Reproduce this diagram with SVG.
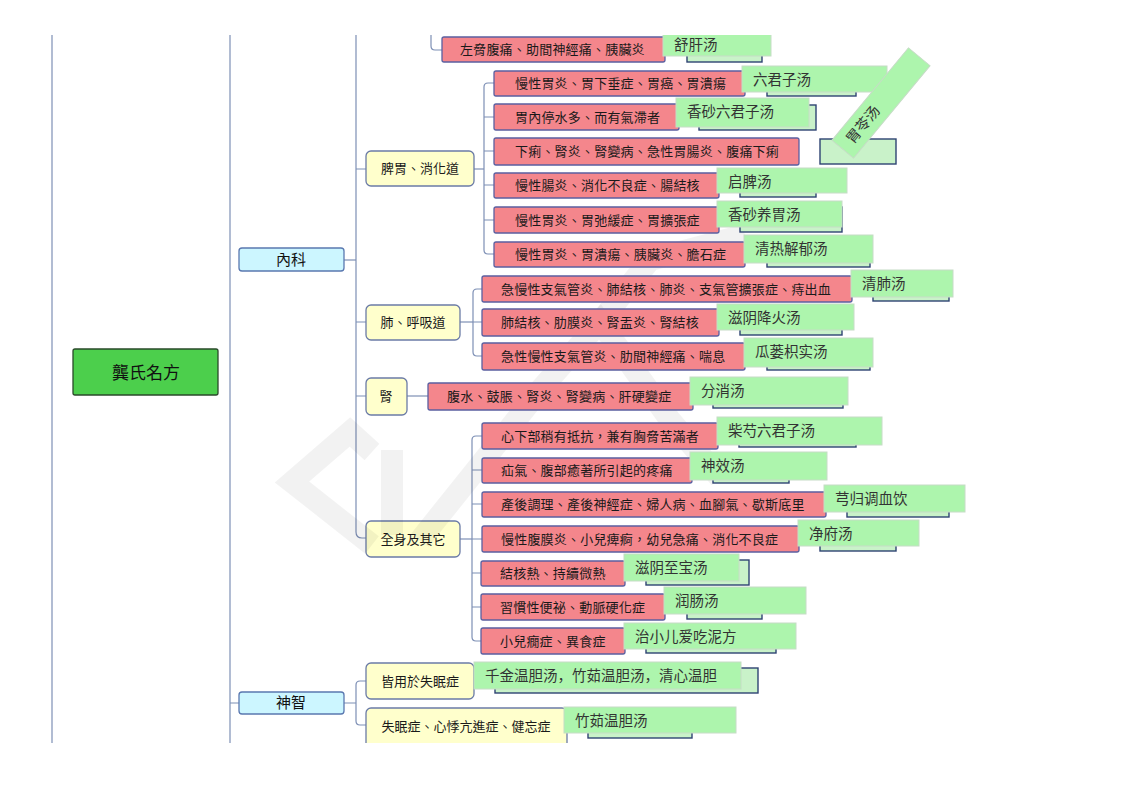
<svg xmlns="http://www.w3.org/2000/svg" width="1122" height="793" viewBox="0 0 1122 793">
<defs>
<clipPath id="page"><rect x="0" y="35" width="1122" height="708"/></clipPath>
<style>
.red{fill:#f4868c;stroke:#5b5fa0;stroke-width:1.3}
.grn{fill:#adf5ad;stroke:#c6dcc6;stroke-width:1}
.shd{fill:#c9f2c9;stroke:#2e4372;stroke-width:1.4}
.yel{fill:#ffffcc;stroke:#6b7ba6;stroke-width:1.3}
.cyan{fill:#ccf6ff;stroke:#5a78b0;stroke-width:1.3}
.root{fill:#4ccf4c;stroke:#2a4a2a;stroke-width:1.3}
.ln{fill:none;stroke:#7d8fb5;stroke-width:1.2}
.rt{font-family:"Noto Sans CJK TC","Noto Sans CJK SC",sans-serif;font-size:13px;fill:#1a1a1a;letter-spacing:0.2px}
.gt{font-family:"Noto Sans CJK SC",sans-serif;font-size:14.5px;fill:#333}
.yt{font-family:"Noto Sans CJK TC","Noto Sans CJK SC",sans-serif;font-size:13px;fill:#1a1a1a;text-anchor:middle}
.ct{font-family:"Noto Sans CJK TC","Noto Sans CJK SC",sans-serif;font-size:15px;fill:#111;text-anchor:middle}
.wm{fill:none;stroke:#000;stroke-opacity:0.05;stroke-width:22;stroke-linejoin:miter}
</style>
</defs>
<rect width="1122" height="793" fill="#fff"/>
<g clip-path="url(#page)">
<g id="connectors">
<path class="ln" d="M52,35 V743"/>
<path class="ln" d="M230,35 V743"/>
<path class="ln" d="M356,35 V532 Q356,538 362,538 H366"/>
<path class="ln" d="M344,260 H356"/>
<path class="ln" d="M356,169 H366 M356,322 H366 M356,396 H366"/>
<path class="ln" d="M431,35 V46 Q431,50 435,50 H442"/>
<path class="ln" d="M474,169 H484"/>
<path class="ln" d="M494,83 H488 Q484,83 484,87 V250 Q484,254 488,254 H494 M484,117 H494 M484,151 H494 M484,185 H494 M484,220 H494"/>
<path class="ln" d="M460,322 H473"/>
<path class="ln" d="M482,289 H477 Q473,289 473,293 V352 Q473,356 477,356 H482 M473,322 H482"/>
<path class="ln" d="M407,396 H428"/>
<path class="ln" d="M460,539 H472"/>
<path class="ln" d="M482,436 H476 Q472,436 472,440 V637 Q472,641 476,641 H482 M472,470 H482 M472,504 H482 M472,539 H482 M472,573 H482 M472,607 H482"/>
<path class="ln" d="M230,703 H239 M344,703 H356"/>
<path class="ln" d="M366,681 H360 Q356,681 356,685 V721 Q356,725 360,725 H366"/>
</g>

<g id="root"><rect class="root" x="73" y="349" width="145" height="46" rx="2"/><text class="ct" x="146" y="379" style="font-size:17px">龔氏名方</text></g>
<g id="neike"><rect class="cyan" x="239" y="248" width="105" height="23" rx="3"/><text class="ct" x="291" y="265">內科</text></g>
<g id="shenzhi"><rect class="cyan" x="239" y="692" width="105" height="22" rx="3"/><text class="ct" x="291" y="708">神智</text></g>

<g id="piwei"><rect class="yel" x="366" y="151" width="108" height="35" rx="5"/><text class="yt" x="420" y="173">脾胃、消化道</text></g>
<g id="fei"><rect class="yel" x="366" y="305" width="94" height="35" rx="5"/><text class="yt" x="413" y="327">肺、呼吸道</text></g>
<g id="shen"><rect class="yel" x="366" y="378" width="41" height="37" rx="5"/><text class="yt" x="386" y="401">腎</text></g>
<g id="quanshen"><rect class="yel" x="366" y="521" width="94" height="36" rx="5"/><text class="yt" x="413" y="544">全身及其它</text></g>
<g id="shimian1"><rect class="yel" x="366" y="663" width="108" height="36" rx="5"/><text class="yt" x="420" y="686">皆用於失眠症</text></g>
<g id="shimian2"><rect class="yel" x="366" y="708" width="201" height="45" rx="5"/><text class="yt" x="466" y="731">失眠症、心悸亢進症、健忘症</text></g>

<g id="wm">
<path class="wm" d="M372,545 L292,482 L350,432 L372,452"/>
<path class="wm" d="M392,450 L392,535"/>
<path class="wm" d="M420,540 L540,390 L600,322 L670,420 L720,478"/>
<path class="wm" d="M600,322 L650,260 L745,235"/>
</g>

<g id="r0"><rect class="shd" x="687" y="37" width="75" height="25"/><rect class="red" x="442" y="37" width="223" height="25" rx="2"/><text class="rt" x="460" y="54">左脅腹痛、助間神經痛、胰臟炎</text><rect class="grn" x="663" y="33" width="108" height="23"/><text class="gt" x="674" y="50">舒肝汤</text></g>

<g id="r1"><rect class="shd" x="767" y="71" width="89" height="25"/><rect class="red" x="494" y="71" width="251" height="25" rx="2"/><text class="rt" x="515" y="88">慢性胃炎、胃下垂症、胃癌、胃潰瘍</text><rect class="grn" x="742" y="66" width="145" height="26"/><text class="gt" x="753" y="85">六君子汤</text></g>

<g id="r2"><rect class="shd" x="699" y="105" width="117" height="25"/><rect class="red" x="494" y="104" width="185" height="26" rx="2"/><text class="rt" x="515" y="122">胃內停水多、而有氣滯者</text><rect class="grn" x="676" y="98" width="133" height="29"/><text class="gt" x="687" y="117">香砂六君子汤</text></g>

<g id="r3"><rect class="red" x="494" y="138" width="305" height="27" rx="2"/><text class="rt" x="515" y="156">下痢、腎炎、腎變病、急性胃腸炎、腹痛下痢</text><rect class="shd" x="820" y="139" width="76" height="25"/><g transform="translate(881,103) rotate(-50.4)"><rect class="grn" x="-60" y="-14" width="120" height="28"/><text class="gt" x="-50" y="5">胃苓汤</text></g></g>

<g id="r4"><rect class="shd" x="740" y="173" width="76" height="24"/><rect class="red" x="494" y="173" width="225" height="25" rx="2"/><text class="rt" x="515" y="190">慢性腸炎、消化不良症、腸結核</text><rect class="grn" x="717" y="168" width="130" height="25"/><text class="gt" x="728" y="187">启脾汤</text></g>

<g id="r5"><rect class="shd" x="740" y="207" width="102" height="25"/><rect class="red" x="494" y="207" width="225" height="26" rx="2"/><text class="rt" x="515" y="225">慢性胃炎、胃弛緩症、胃擴張症</text><rect class="grn" x="717" y="201" width="125" height="26"/><text class="gt" x="728" y="220">香砂养胃汤</text></g>

<g id="r6"><rect class="shd" x="767" y="242" width="103" height="25"/><rect class="red" x="494" y="242" width="251" height="25" rx="2"/><text class="rt" x="515" y="259">慢性胃炎、胃潰瘍、胰臟炎、膽石症</text><rect class="grn" x="744" y="235" width="129" height="28"/><text class="gt" x="755" y="254">清热解郁汤</text></g>

<g id="r7"><rect class="shd" x="873" y="276" width="76" height="25"/><rect class="red" x="482" y="276" width="370" height="26" rx="2"/><text class="rt" x="501" y="294">急慢性支氣管炎、肺結核、肺炎、支氣管擴張症、痔出血</text><rect class="grn" x="851" y="270" width="102" height="27"/><text class="gt" x="862" y="289">清肺汤</text></g>

<g id="r8"><rect class="shd" x="740" y="309" width="102" height="26"/><rect class="red" x="482" y="309" width="237" height="27" rx="2"/><text class="rt" x="501" y="327">肺結核、肋膜炎、腎盂炎、腎結核</text><rect class="grn" x="717" y="304" width="137" height="26"/><text class="gt" x="728" y="323">滋阴降火汤</text></g>

<g id="r9"><rect class="shd" x="767" y="343" width="103" height="27"/><rect class="red" x="482" y="343" width="263" height="27" rx="2"/><text class="rt" x="501" y="361">急性慢性支氣管炎、肋間神經痛、喘息</text><rect class="grn" x="744" y="338" width="129" height="29"/><text class="gt" x="755" y="357">瓜蒌枳实汤</text></g>

<g id="r10"><rect class="shd" x="713" y="383" width="130" height="25"/><rect class="red" x="428" y="383" width="265" height="27" rx="2"/><text class="rt" x="447" y="401">腹水、鼓脹、腎炎、腎變病、肝硬變症</text><rect class="grn" x="690" y="377" width="158" height="28"/><text class="gt" x="701" y="396">分消汤</text></g>

<g id="r11"><rect class="shd" x="739" y="423" width="117" height="24"/><rect class="red" x="482" y="423" width="236" height="26" rx="2"/><text class="rt" x="501" y="441">心下部稍有抵抗，兼有胸脅苦滿者</text><rect class="grn" x="717" y="417" width="165" height="28"/><text class="gt" x="728" y="436">柴芍六君子汤</text></g>

<g id="r12"><rect class="shd" x="713" y="458" width="76" height="25"/><rect class="red" x="482" y="458" width="210" height="25" rx="2"/><text class="rt" x="501" y="475">疝氣、腹部癒著所引起的疼痛</text><rect class="grn" x="690" y="452" width="137" height="28"/><text class="gt" x="701" y="471">神效汤</text></g>

<g id="r13"><rect class="shd" x="847" y="492" width="102" height="25"/><rect class="red" x="482" y="492" width="344" height="25" rx="2"/><text class="rt" x="501" y="509">產後調理、產後神經症、婦人病、血腳氣、歇斯底里</text><rect class="grn" x="824" y="485" width="141" height="27"/><text class="gt" x="835" y="504">芎归调血饮</text></g>

<g id="r14"><rect class="shd" x="820" y="526" width="76" height="25"/><rect class="red" x="482" y="526" width="317" height="26" rx="2"/><text class="rt" x="501" y="544">慢性腹膜炎、小兒痺痾，幼兒急痛、消化不良症</text><rect class="grn" x="798" y="520" width="121" height="26"/><text class="gt" x="809" y="539">净府汤</text></g>

<g id="r15"><rect class="shd" x="646" y="560" width="103" height="25"/><rect class="red" x="481" y="561" width="144" height="25" rx="2"/><text class="rt" x="500" y="578">結核熱、持續微熱</text><rect class="grn" x="624" y="554" width="115" height="27"/><text class="gt" x="635" y="573">滋阴至宝汤</text></g>

<g id="r16"><rect class="shd" x="687" y="594" width="75" height="25"/><rect class="red" x="481" y="594" width="184" height="26" rx="2"/><text class="rt" x="500" y="612">習慣性便祕、動脈硬化症</text><rect class="grn" x="664" y="587" width="142" height="27"/><text class="gt" x="675" y="606">润肠汤</text></g>

<g id="r17"><rect class="shd" x="646" y="628" width="130" height="25"/><rect class="red" x="481" y="628" width="144" height="26" rx="2"/><text class="rt" x="500" y="646">小兒癇症、異食症</text><rect class="grn" x="624" y="623" width="172" height="26"/><text class="gt" x="635" y="642">治小儿爱吃泥方</text></g>

<g id="g18"><rect class="shd" x="495" y="668" width="263" height="25"/><rect class="grn" x="474" y="662" width="267" height="27"/><text class="gt" x="485" y="681">千金温胆汤，竹茹温胆汤，清心温胆</text></g>

<g id="g19"><rect class="shd" x="588" y="713" width="104" height="25"/><rect class="grn" x="564" y="707" width="172" height="26"/><text class="gt" x="575" y="726">竹茹温胆汤</text></g>
</g>
</svg>
